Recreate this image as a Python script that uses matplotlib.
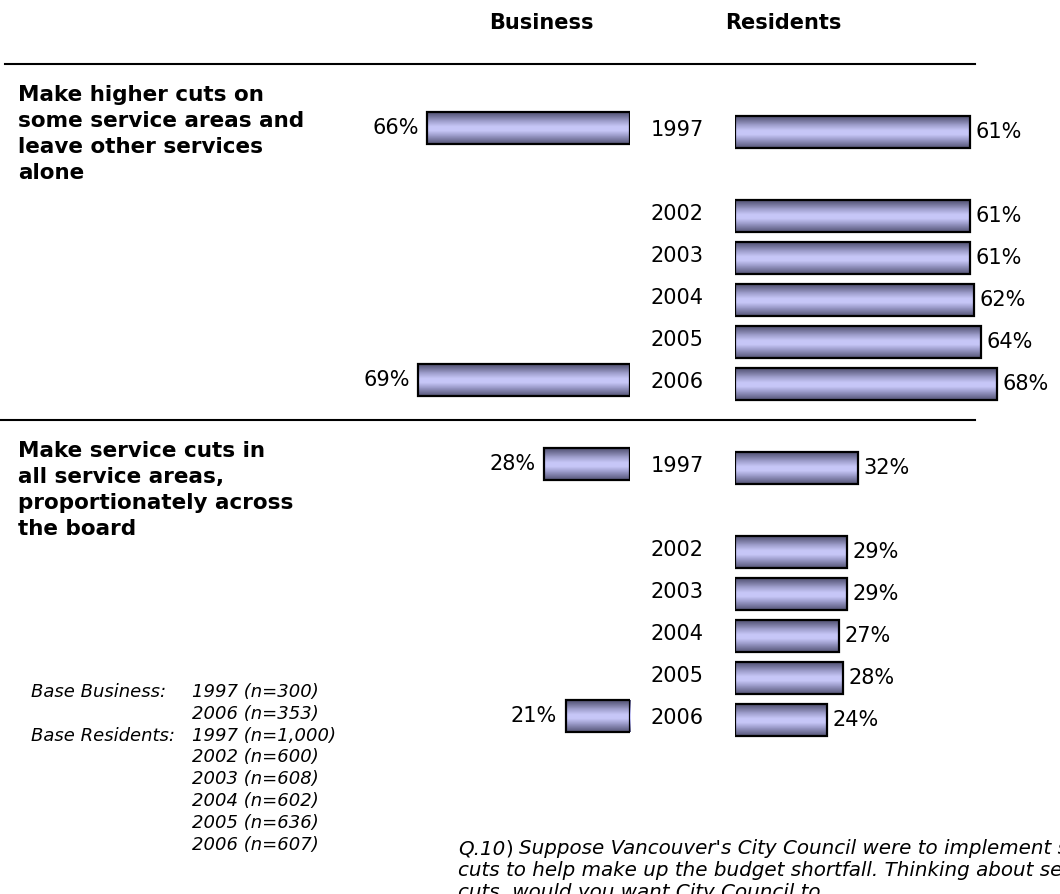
import numpy as np
import matplotlib
matplotlib.use("Agg")
import matplotlib.pyplot as plt
from matplotlib.colors import LinearSegmentedColormap

# ---- data -------------------------------------------------------------
years = ["1997", "2002", "2003", "2004", "2005", "2006"]
options = [
    "Make higher cuts on\nsome service areas and\nleave other services\nalone",
    "Make service cuts in\nall service areas,\nproportionately across\nthe board",
]
business_years = ["1997", "2006"]
business_higher = [66, 69]
business_across = [28, 21]
residents_higher = [61, 61, 61, 62, 64, 68]
residents_across = [32, 29, 29, 27, 28, 24]

base_lines = [
    ("Base Business:", "1997 (n=300)"),
    ("", "2006 (n=353)"),
    ("Base Residents:", "1997 (n=1,000)"),
    ("", "2002 (n=600)"),
    ("", "2003 (n=608)"),
    ("", "2004 (n=602)"),
    ("", "2005 (n=636)"),
    ("", "2006 (n=607)"),
]
question = [
    "Suppose Vancouver's City Council were to implement service",
    "cuts to help make up the budget shortfall. Thinking about service",
    "cuts, would you want City Council to...",
]

# ---- layout helpers ---------------------------------------------------
W, H = 1060, 894
FONT = "DejaVu Sans"
plt.rcParams["font.family"] = [FONT]

fig = plt.figure(figsize=(W / 100, H / 100), dpi=100)


def fx(x):
    return x / W


def fy(y):
    return 1 - y / H


# slot index for each year inside a block; 1998-2001 collapse to one gap slot
year_slot = {"1997": 0, "2002": 2, "2003": 3, "2004": 4, "2005": 5, "2006": 6}
block_offset = [0, 8]

slot_top_px, slot_px = 88, 42.0
ylim = (15, -1)
ax_bottom_px = slot_top_px + slot_px * 16


def make_axes(x0, x1):
    ax = fig.add_axes([fx(x0), fy(ax_bottom_px), fx(x1 - x0), (ax_bottom_px - slot_top_px) / H])
    ax.set_axis_off()
    return ax


# Business bars grow to the left from x=630, residents to the right from x=735
ax_b = make_axes(630 - 100 * 3.07, 630)
ax_r = make_axes(735, 735 + 80 * 3.85)

grad = LinearSegmentedColormap.from_list(
    "barshade",
    [
        (0.00, (0.32, 0.32, 0.45)),
        (0.12, (0.44, 0.44, 0.59)),
        (0.28, (0.62, 0.62, 0.80)),
        (0.45, (0.78, 0.78, 0.97)),
        (0.58, (0.78, 0.78, 0.97)),
        (0.75, (0.60, 0.60, 0.78)),
        (0.90, (0.44, 0.44, 0.59)),
        (1.00, (0.34, 0.34, 0.47)),
    ],
)
shade = np.linspace(0, 1, 64).reshape(-1, 1)

BAR_H = 0.76


def shaded_bar(ax, y, value):
    bars = ax.barh([y], [value], height=BAR_H, color="none", edgecolor="black",
                   linewidth=1.6, zorder=3)
    rect = bars.patches[0]
    im = ax.imshow(shade, cmap=grad, aspect="auto", interpolation="bilinear",
                   extent=[0, value, y + BAR_H / 2, y - BAR_H / 2], zorder=2)
    im.set_clip_path(rect)
    return rect


for b, (bvals, rvals) in enumerate([(business_higher, residents_higher),
                                    (business_across, residents_across)]):
    base = block_offset[b]
    for yr, v in zip(business_years, bvals):
        y = base + year_slot[yr] - 0.05
        shaded_bar(ax_b, y, v)
        ax_b.annotate(f"{v}%", (v, y), xytext=(-6, 0), textcoords="offset points",
                      ha="right", va="center", fontsize=15)
    for yr, v in zip(years, rvals):
        y = base + year_slot[yr] + 0.05
        shaded_bar(ax_r, y, v)
        ax_r.annotate(f"{v}%", (v, y), xytext=(4, 0), textcoords="offset points",
                      ha="left", va="center", fontsize=15)
        ax_r.annotate(yr, (0, base + year_slot[yr]), xytext=(-41.5, 0),
                      textcoords="offset points", ha="center", va="center",
                      fontsize=15, annotation_clip=False)

for ax, lim in ((ax_b, (100, 0)), (ax_r, (0, 80))):
    ax.set_xlim(*lim)
    ax.set_ylim(*ylim)

# ---- headers and rules ------------------------------------------------
fig.text(fx(541), fy(23), "Business", ha="center", va="center",
         fontsize=15, fontweight="bold")
fig.text(fx(783), fy(23), "Residents", ha="center", va="center",
         fontsize=15, fontweight="bold")

for y, x0 in ((64, 5), (420, 0)):
    fig.add_artist(plt.Line2D([fx(x0), fx(975)], [fy(y), fy(y)],
                              color="black", linewidth=1.5))

for txt, top in zip(options, (85, 441)):
    fig.text(fx(18), fy(top), txt, ha="left", va="top", fontsize=15.5,
             fontweight="bold", linespacing=1.37)

# ---- base sizes -------------------------------------------------------
for i, (lab, val) in enumerate(base_lines):
    y = 692 + i * 21.8
    if lab:
        fig.text(fx(31), fy(y), lab, ha="left", va="center",
                 fontsize=13, style="italic")
    fig.text(fx(192), fy(y), val, ha="left", va="center",
             fontsize=13, style="italic")

# ---- question wording -------------------------------------------------
QFS = 14.3
qx = fx(458)
q1 = fig.text(qx, fy(849), "Q.10", ha="left", va="center", fontsize=QFS,
              style="italic")
fig.canvas.draw()
bb = q1.get_window_extent()
q2 = fig.text(bb.x1 / W, fy(849), ")", ha="left", va="center", fontsize=QFS)
fig.canvas.draw()
bb2 = q2.get_window_extent()
fig.text(bb2.x1 / W + 0.006, fy(849), question[0], ha="left", va="center",
         fontsize=QFS, style="italic")
fig.text(qx, fy(871), question[1], ha="left", va="center", fontsize=QFS,
         style="italic")
fig.text(qx, fy(893), question[2], ha="left", va="center", fontsize=QFS,
         style="italic")

fig.savefig("out.png", dpi=100, facecolor="white")
